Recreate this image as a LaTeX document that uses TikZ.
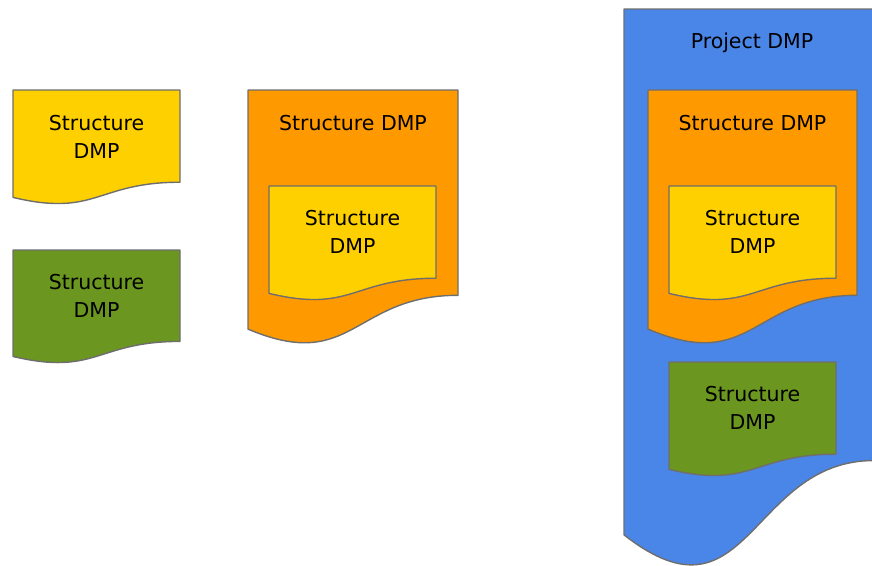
\documentclass[tikz,border=0pt]{standalone}
\usepackage{fontspec}
\setmainfont{DejaVu Sans}
\usepackage{tikz}
\usepackage{xcolor}

\definecolor{dmpyellow}{HTML}{FFD000}
\definecolor{dmporange}{HTML}{FF9900}
\definecolor{dmpgreen}{HTML}{6B961F}
\definecolor{dmpblue}{HTML}{4A86E8}
\definecolor{dmpborder}{HTML}{6E6E6E}

% document shape: x, y (top left), width, height, fill
\newcommand{\dmpdoc}[5]{%
  \pgfmathsetmacro{\dxr}{#1+#3}\pgfmathsetmacro{\dxm}{#1+0.5*#3}%
  \pgfmathsetmacro{\dyr}{#2+0.802*#4}\pgfmathsetmacro{\dyl}{#2+0.934*#4}%
  \pgfmathsetmacro{\dyc}{#2+1.1075*#4}%
  \draw[docline, fill=#5] (#1,#2) -- (\dxr,#2) -- (\dxr,\dyr)
    .. controls (\dxm,\dyr) and (\dxm,\dyc) .. (#1,\dyl) -- cycle;}

\begin{document}
\begin{tikzpicture}[x=1pt, y=-1pt,
                    docline/.style={draw=dmpborder, line width=1.4pt, line join=round},
                    doctext/.style={align=center, font=\fontsize{20.5}{28}\selectfont, inner sep=0pt}]
    \useasboundingbox (0,0) rectangle (872,565);
    \clip (0,0) rectangle (872,565);
    % single structures
    \dmpdoc{13}{90}{167}{115}{dmpyellow}
    \node[doctext] (single1) at (96.5,137) {Structure\\DMP};
    \dmpdoc{13}{250}{167}{114}{dmpgreen}
    \node[doctext] (single2) at (96.5,296) {Structure\\DMP};
    % nested structure
    \dmpdoc{248}{90}{210}{256}{dmporange}
    \node[doctext] (outer) at (353,123) {Structure DMP};
    \dmpdoc{269}{186}{167}{115}{dmpyellow}
    \node[doctext] (inner) at (352.5,232) {Structure\\DMP};
    % project
    \dmpdoc{624}{9}{250}{563}{dmpblue}
    \node[doctext] (project) at (752,43) {Project DMP};
    \dmpdoc{648}{90}{209}{256}{dmporange}
    \node[doctext] (pouter) at (752.5,123) {Structure DMP};
    \dmpdoc{669}{186}{167}{115}{dmpyellow}
    \node[doctext] (pinner) at (752.5,232) {Structure\\DMP};
    \dmpdoc{669}{362}{167}{115}{dmpgreen}
    \node[doctext] (pgreen) at (752.5,408) {Structure\\DMP};
\end{tikzpicture}
\end{document}
